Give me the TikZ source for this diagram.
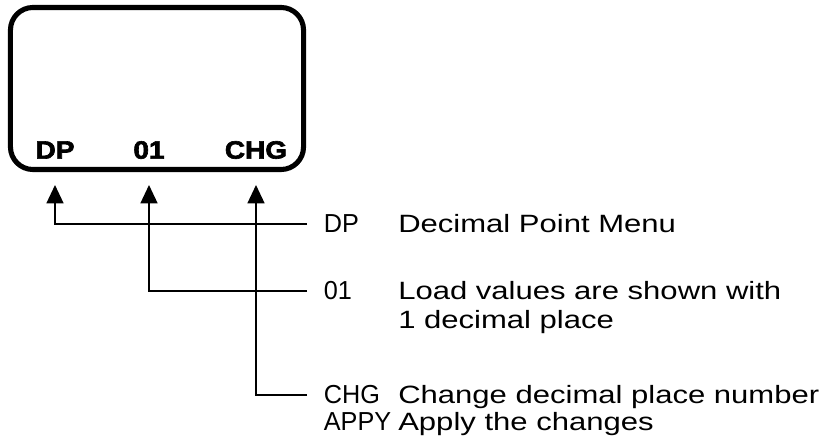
\documentclass[tikz,border=0pt]{standalone}
\usepackage{fontspec}
\setmainfont{Liberation Sans}[FakeStretch=1.24]
\newfontfamily\keyfont{Liberation Sans}[FakeStretch=0.97]
\newfontfamily\lcdfont{Liberation Sans Bold}[FakeStretch=1.12, FakeBold=2.5]
\usetikzlibrary{arrows.meta,calc}
\tikzset{
  lcdlabel/.style={font=\fontsize{17.8}{20}\lcdfont, inner sep=0pt},
  keyword/.style={font=\fontsize{18.5}{20}\keyfont, inner sep=0pt, outer xsep=12pt, anchor=west},
  remark/.style={font=\fontsize{17.8}{20}\selectfont, inner sep=0pt, anchor=base west},
  pointer/.style={-{Triangle[width=12pt,length=13pt]}, line width=1.2pt},
}
\begin{document}
\begin{tikzpicture}[x=0.025cm,y=-0.025cm]
\useasboundingbox (0,0) rectangle (829,444);
% display
\node[draw, line width=3.6pt, rounded corners=16pt, minimum width=7.325cm, minimum height=4.05cm] (lcd) at (157,88.5) {};
\node[lcdlabel] (lcdDP) at (55,150) {DP};
\node[lcdlabel] (lcd01) at (149,150) {01};
\node[lcdlabel] (lcdCHG) at (256,150) {CHG};
\coordinate (tips) at (0,185);
\coordinate (desc) at (398,0);
% keys and meanings
\node[keyword] (kDP) at (307,224) {DP};
\node[remark] (rDP) at (kDP.base -| desc) {Decimal Point Menu};
\node[keyword] (k01) at (307,291) {01};
\node[remark] (r01) at (k01.base -| desc) {Load values are shown with};
\node[remark] (r01b) at ($(r01.base west)+(0,29)$) {1 decimal place};
\node[keyword] (kCHG) at (307,395) {CHG};
\node[remark] (rCHG) at (kCHG.base -| desc) {Change decimal place number};
\node[keyword, anchor=base west] (kAPPY) at ($(kCHG.base west)+(0,27)$) {APPY};
\node[remark] (rAPPY) at (kAPPY.base -| desc) {Apply the changes};
% pointers
\draw[pointer] (kDP.west) -| (lcdDP |- tips);
\draw[pointer] (k01.west) -| (lcd01 |- tips);
\draw[pointer] (kCHG.west) -| (lcdCHG |- tips);
\end{tikzpicture}
\end{document}
